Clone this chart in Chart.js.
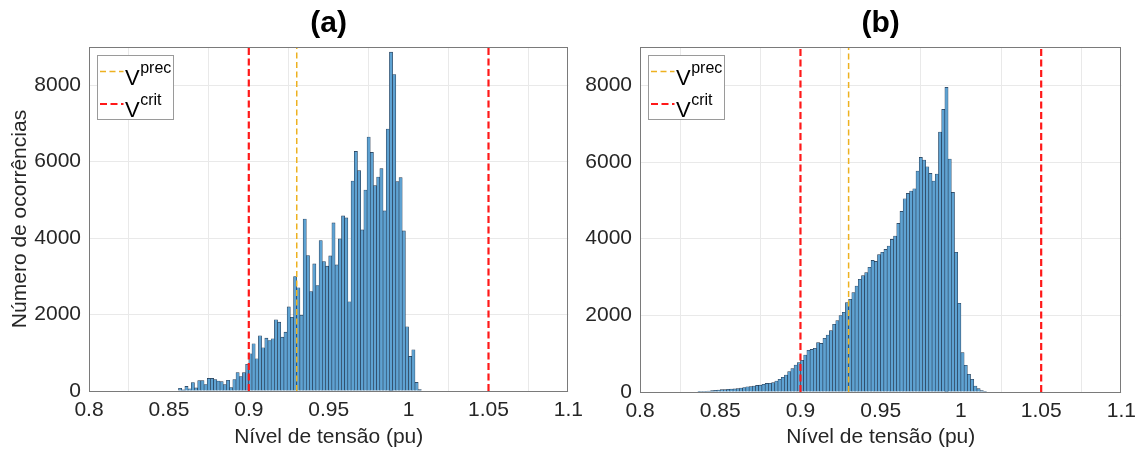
<!DOCTYPE html>
<html><head><meta charset="utf-8">
<script src="https://cdn.jsdelivr.net/npm/chart.js@4.4.1/dist/chart.umd.min.js"></script>
<style>
html,body{margin:0;padding:0;background:#fff;width:1143px;height:455px;overflow:hidden;}
#ca{position:absolute;left:0;top:0;}
#cb{position:absolute;left:560px;top:0;}
</style></head><body>
<canvas id="ca" width="590" height="455"></canvas>
<canvas id="cb" width="583" height="455"></canvas>
<script>
// ---- data ----
const binWidth = 0.002;
const binStartA = 0.856;
const countsA = [70,30,120,60,220,80,270,270,165,330,330,300,260,245,165,280,90,300,480,380,480,700,
  974,1235,844,1444,1131,1383,1322,1366,1862,1800,1409,1540,2200,1930,2995,2700,1985,4501,3544,2603,
  3326,2760,3935,3387,3265,3535,4397,3300,3979,4580,4528,2333,5494,6269,5764,4214,5259,6643,6243,5372,
  5598,5816,4711,6852,8864,8280,5477,5581,4188,1680,905,1080,226,35];
const binStartB = 0.836;
const countsB = [8,15,18,25,35,42,52,60,62,70,78,80,88,105,115,138,140,155,172,178,200,225,228,245,288,330,383,443,530,610,705,765,
  826,965,1087,1110,1139,1287,1269,1400,1487,1600,1765,1860,1991,2078,2330,2417,2591,2765,2939,3034,
  3113,3252,3434,3408,3582,3643,3721,3808,3982,4069,4399,4712,5042,5181,5242,5303,5764,6121,6051,5877,
  5703,5503,5686,6781,7372,7946,6077,5208,3643,2313,1026,696,461,330,157,87,40,15];
const xTickValues = [0.8,0.85,0.9,0.95,1,1.05,1.1];
const xTickLabels = ['0.8','0.85','0.9','0.95','1','1.05','1.1'];
const yTickValues = [0,2000,4000,6000,8000];
const yTickLabels = ['0','2000','4000','6000','8000'];
const vPrec = 0.93;
const vCritLow = 0.9;
const vCritHigh = 1.05;
const panelTitles = ['(a)','(b)'];
const xAxisLabel = 'Nível de tensão (pu)';
const yAxisLabel = 'Número de ocorrências';
const legendBase = 'V';
const legendSup = ['prec','crit'];

// ---- styles ----
const TXT = '#262626';
const FONT = '"Liberation Sans", Arial, Helvetica, sans-serif';
const RED = 'rgb(255,25,25)';
const YEL = '#EDB120';
const redStyle = {color: RED, width: 2.2, dash: [7,3.5]};
const yelStyle = {color: YEL, width: 1.5, dash: [6,3.5]};

const decor = {
  id: 'decor',
  afterDraw(chart, args, o) {
    const {ctx, chartArea: a} = chart;
    ctx.save();
    ctx.strokeStyle = '#7a7a7a'; ctx.lineWidth = 1; ctx.setLineDash([]);
    ctx.strokeRect(Math.round(a.left)+0.5, Math.round(a.top)+0.5, Math.round(a.right-a.left)-1, Math.round(a.bottom-a.top));
    ctx.fillStyle = '#000'; ctx.font = 'bold 30px ' + FONT;
    ctx.textAlign = 'center'; ctx.textBaseline = 'middle';
    ctx.fillText(o.title, (a.left + a.right)/2, 24);
    const lx = Math.round(a.left + 8) + 0.5, ly = Math.round(a.top + 8) + 0.5, lw = 76, lh = 64;
    ctx.fillStyle = '#fff'; ctx.fillRect(lx, ly, lw, lh);
    ctx.strokeStyle = '#9a9a9a'; ctx.lineWidth = 1; ctx.strokeRect(lx, ly, lw, lh);
    const styles = [yelStyle, redStyle];
    const lineY = [16, 48.5];
    const vBase = [29, 61];
    const supBase = [17, 49];
    for (let i = 0; i < 2; i++) {
      const s = styles[i];
      ctx.beginPath();
      ctx.strokeStyle = s.color; ctx.lineWidth = s.width; ctx.setLineDash(s.dash);
      ctx.moveTo(lx + 2.5, ly + lineY[i]); ctx.lineTo(lx + 26, ly + lineY[i]); ctx.stroke();
      ctx.setLineDash([]);
      ctx.fillStyle = '#000'; ctx.textAlign = 'left'; ctx.textBaseline = 'alphabetic';
      ctx.font = '22px ' + FONT;
      ctx.fillText(legendBase, lx + 27.5, ly + vBase[i]);
      const w = ctx.measureText(legendBase).width;
      ctx.font = '16px ' + FONT;
      ctx.fillText(legendSup[i], lx + 27.5 + w + 0.5, ly + supBase[i]);
    }
    ctx.restore();
  }
};

function vline(x, s) {
  return {type: 'line', data: [{x: x, y: 0}, {x: x, y: 9000}], borderColor: s.color, borderWidth: s.width,
    borderDash: s.dash, pointRadius: 0, fill: false, tension: 0, order: 0, clip: false};
}

function makeChart(id, counts, binStart, cfg) {
  const bars = counts.map((c, i) => ({x: +(binStart + (i + 0.5) * binWidth).toFixed(4), y: c}));
  return new Chart(document.getElementById(id), {
    type: 'bar',
    data: {datasets: [
      vline(vCritLow, redStyle), vline(vPrec, yelStyle), vline(vCritHigh, redStyle),
      {type: 'bar', data: bars, backgroundColor: 'rgb(94,162,210)', borderColor: 'rgba(25,45,70,0.95)',
       borderWidth: 0.6, barPercentage: 1, categoryPercentage: 1, order: 1}
    ]},
    options: {
      responsive: false, animation: false, devicePixelRatio: 1,
      layout: {padding: {top: 47, right: cfg.padRight, left: 0, bottom: 0}},
      plugins: {legend: {display: false}, tooltip: {enabled: false}, title: {display: false}, decor: {title: cfg.title}},
      scales: {
        x: {type: 'linear', min: 0.8, max: 1.1, offset: false,
          afterBuildTicks: s => { s.ticks = xTickValues.map(v => ({value: v})); },
          ticks: {callback: (v, i) => xTickLabels[i], font: {family: FONT, size: 21}, color: TXT, padding: 7, maxRotation: 0, autoSkip: false},
          grid: {color: '#e9e9e9', drawTicks: false, lineWidth: 1},
          border: {display: false},
          title: {display: true, text: xAxisLabel, font: {family: FONT, size: 21}, color: TXT, padding: {top: 0, bottom: 5}},
          afterFit: s => { s.height = cfg.xH; }
        },
        y: {type: 'linear', min: 0, max: 9000,
          afterBuildTicks: s => { s.ticks = yTickValues.map(v => ({value: v})); },
          ticks: {callback: (v, i) => yTickLabels[i], font: {family: FONT, size: 21}, color: TXT, padding: 8},
          grid: {color: '#e9e9e9', drawTicks: false, lineWidth: 1},
          border: {display: false},
          title: {display: cfg.yTitle, text: yAxisLabel, font: {family: FONT, size: 21}, color: TXT, padding: {top: 8, bottom: 0}},
          afterFit: s => { s.width = cfg.yW; }
        }
      }
    },
    plugins: [decor]
  });
}

makeChart('ca', countsA, binStartA, {title: panelTitles[0], padRight: 17, xH: 64, yW: 89, yTitle: true});
makeChart('cb', countsB, binStartB, {title: panelTitles[1], padRight: 18, xH: 63, yW: 80, yTitle: false});
</script>
</body></html>
